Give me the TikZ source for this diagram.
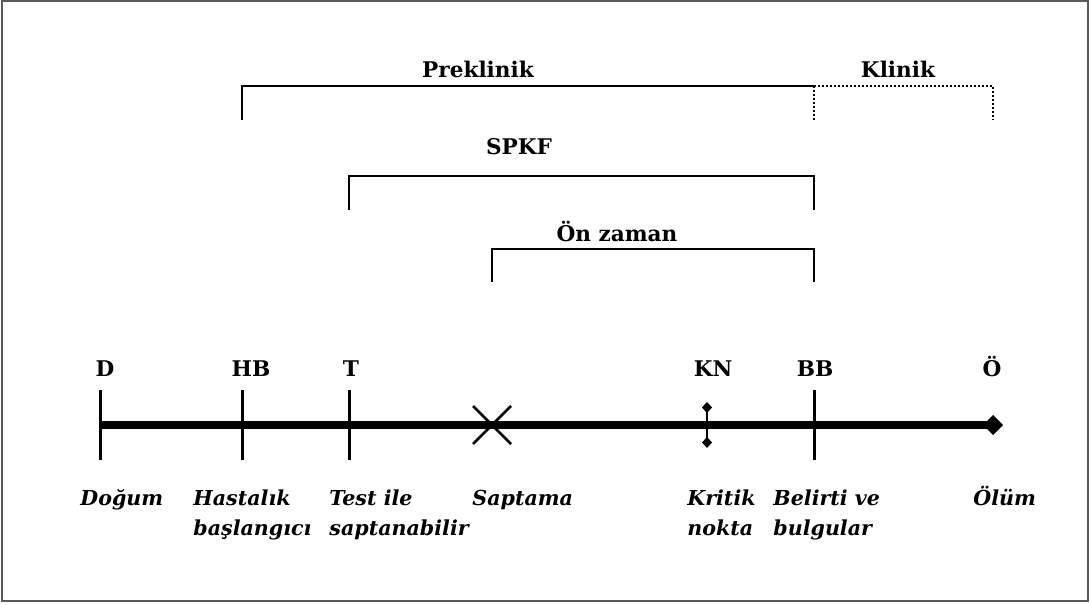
\documentclass[tikz,border=0pt]{standalone}
\usepackage{fontspec}
\setmainfont{DejaVu Serif}
\usetikzlibrary{arrows.meta}

\begin{document}
\begin{tikzpicture}[x=0.5pt,y=-0.5pt,
    every node/.style={font=\fontsize{10.8}{15}\selectfont\bfseries},
    tick/.style={line width=1.5pt},
    brace/.style={line width=1pt},
    dotbrace/.style={line width=1.3pt,dash pattern=on 1pt off 1pt},
    olay/.style={font=\fontsize{10.3}{15}\selectfont\bfseries\itshape,anchor=base west,align=left,inner sep=0pt}]

    \useasboundingbox (0,0) rectangle (1090,604);

    % Frame
    \draw[black!65,line width=1pt] (2,1) rectangle (1088,601);

    % Time axis
    \coordinate (d) at (100,425);
    \coordinate (hb) at (242,425);
    \coordinate (t) at (349,425);
    \coordinate (s) at (492,425);
    \coordinate (kn) at (707,425);
    \coordinate (bb) at (814,425);
    \coordinate (o) at (993,425);
    \coordinate (oend) at (1003,425);
    \draw[line width=3.7pt,-{Diamond[length=10pt,width=10pt]}] (d) -- (oend);

    % Ticks
    \foreach \n in {d,hb,t,bb}
        \draw[tick] (\n) ++(0,-35) -- ++(0,70);

    % Saptama (X)
    \draw[line width=1.3pt] (s) ++(-19,-19) -- ++(38,38);
    \draw[line width=1.3pt] (s) ++(-19,19) -- ++(38,-38);

    % Kritik nokta
    \draw[line width=0.9pt,{Diamond[length=5.5pt,width=5pt]}-{Diamond[length=5.5pt,width=5pt]}] (kn) ++(0,-23) -- ++(0,46);

    % Tick labels
    \node[anchor=base] (lblD) at (105,376) {D};
    \node[anchor=base] (lblHB) at (251,376) {HB};
    \node[anchor=base] (lblT) at (351,376) {T};
    \node[anchor=base] (lblKN) at (713,376) {KN};
    \node[anchor=base] (lblBB) at (815,376) {BB};
    \node[anchor=base] (lblO) at (992,376) {Ö};

    % Event labels (base = last line)
    \node[olay] (dogum) at (80,505) {Doğum};
    \node[olay] (hastalik) at (193,535) {Hastalık\\başlangıcı};
    \node[olay] (test) at (329,535) {Test ile\\saptanabilir};
    \node[olay] (saptama) at (472,505) {Saptama};
    \node[olay] (kritik) at (687,535) {Kritik\\nokta};
    \node[olay] (belirti) at (773,535) {Belirti ve\\bulgular};
    \node[olay] (olum) at (973,505) {Ölüm};

    % Preklinik / Klinik
    \draw[brace] (242,120) |- (814,86);
    \draw[dotbrace] (814,86) -- (814,120);
    \draw[dotbrace] (814,86) -| (993,120);
    \node[anchor=base] (preklinik) at (478,78) {Preklinik};
    \node[anchor=base] (klinik) at (898,78) {Klinik};

    % SPKF
    \draw[brace] (349,210) |- (814,176) -- (814,210);
    \node[anchor=base] (spkf) at (519,155) {SPKF};

    % On zaman
    \draw[brace] (492,282) |- (814,249) -- (814,282);
    \node[anchor=base] (onzaman) at (617,241) {Ön zaman};

\end{tikzpicture}
\end{document}
